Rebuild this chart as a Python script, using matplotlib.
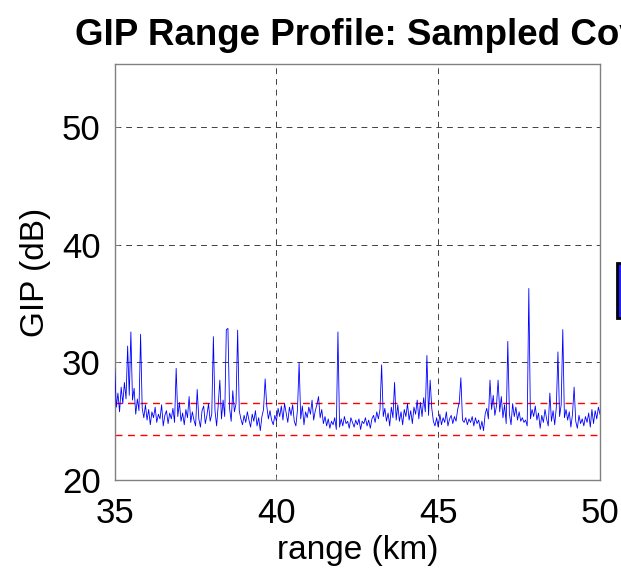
import matplotlib
matplotlib.use("Agg")
import matplotlib.pyplot as plt
from matplotlib.patches import Rectangle
import numpy as np

plt.rcParams['font.family'] = ['Liberation Sans', 'DejaVu Sans']

# ---- data ----
range_start_km = 35.0
range_step_km = 0.05
gip_db = [
    # 35.00 - 35.95
    29.5, 26.2, 27.4, 25.8, 27.9, 26.5, 28.3, 26.9, 31.4, 27.2, 32.6, 26.8, 27.8, 25.6, 26.9, 25.9, 32.4, 26.1, 25.3, 26.4,
    # 36.00 - 36.95
    25.1, 26.0, 24.7, 25.8, 25.3, 26.2, 24.9, 25.6, 25.2, 26.4, 24.6, 25.5, 25.9, 24.8, 25.7, 25.2, 26.1, 24.9, 29.5, 25.4,
    # 37.00 - 37.95
    26.6, 25.0, 25.7, 24.7, 26.0, 25.3, 27.1, 24.9, 25.8, 25.1, 24.6, 27.7, 25.2, 24.5, 25.9, 26.3, 24.8, 25.5, 26.5, 25.0,
    # 38.00 - 38.95
    25.6, 32.2, 25.9, 24.6, 26.4, 28.5, 25.2, 26.8, 25.4, 32.8, 32.9, 26.1, 25.0, 27.6, 25.8, 26.5, 32.75, 25.9, 25.2, 24.7,
    # 39.00 - 39.95
    25.5, 24.9, 25.8, 25.1, 24.5, 25.6, 25.0, 25.9, 24.6, 25.3, 24.2, 25.4, 26.0, 28.6, 26.3, 25.2, 25.9, 25.1, 24.7, 25.5,
    # 40.00 - 40.95
    25.0, 26.1, 25.4, 26.3, 25.1, 26.5, 25.7, 24.9, 26.2, 25.5, 26.4, 25.0, 24.6, 26.0, 30.0, 25.2, 26.3, 24.7, 25.8, 25.3,
    # 41.00 - 41.95
    26.2, 25.6, 26.8, 25.1, 25.9, 26.4, 27.1, 25.3, 26.0, 24.8, 25.4, 24.6, 25.2, 24.4, 25.0, 24.7, 25.3, 24.3, 32.6, 24.5,
    # 42.00 - 42.95
    25.2, 24.6, 25.4, 24.8, 25.0, 24.4, 25.3, 24.9, 24.5, 25.1, 24.7, 25.2, 24.3, 25.0, 24.8, 25.3, 24.6, 25.1, 24.4, 25.2,
    # 43.00 - 43.95
    25.5, 24.9, 25.8, 25.2, 26.0, 29.8, 25.4, 26.1, 25.0, 25.7, 24.6, 26.2, 25.3, 28.3, 25.1, 26.4, 25.0, 25.8, 24.7, 26.0,
    # 44.00 - 44.95
    25.4, 26.5, 25.1, 25.9, 24.8, 26.2, 25.6, 26.8, 25.2, 26.6, 25.4, 27.0, 25.8, 30.6, 25.5, 28.5, 26.1, 25.0, 24.6, 25.3,
    # 45.00 - 45.95
    24.5, 25.6, 24.7, 25.3, 24.9, 25.8, 24.6, 25.2, 25.5, 24.8, 25.4, 25.0, 26.0, 26.6, 28.7, 25.1, 24.9, 25.3, 24.7, 25.2,
    # 46.00 - 46.95
    24.9, 25.4, 24.6, 25.3, 24.8, 25.1, 24.3, 25.0, 24.2, 25.6, 26.1, 25.2, 28.5, 26.0, 27.2, 25.5, 26.3, 28.5, 25.8, 27.1,
    # 47.00 - 47.95
    25.3, 26.4, 24.8, 31.8, 25.6, 24.7, 26.5, 25.4, 26.2, 25.1, 25.8, 25.0, 25.3, 24.9, 25.1, 24.6, 36.3, 25.2, 26.0, 25.4,
    # 48.00 - 48.95
    26.3, 25.1, 25.7, 24.4, 25.5, 24.9, 26.0, 25.2, 24.6, 27.4, 25.0, 25.9, 24.7, 26.2, 30.9, 25.4, 26.4, 32.8, 25.3, 26.0,
    # 49.00 - 50.00
    25.1, 25.8, 24.5, 25.6, 27.9, 25.0, 24.4, 25.5, 24.8, 25.2, 24.6, 25.4, 24.9, 25.7, 24.5, 26.0, 24.8, 25.9, 25.2, 26.2, 25.6,
]
threshold_upper_db = 26.55
threshold_lower_db = 23.8
x_ticks = [35, 40, 45, 50]
y_ticks = [20, 30, 40, 50]
title_text = "GIP Range Profile: Sampled Covariance"
x_label = "range (km)"
y_label = "GIP (dB)"

range_km = range_start_km + range_step_km * np.arange(len(gip_db))

W, H = 621, 574
fig = plt.figure(figsize=(W / 100, H / 100), dpi=100)
fig.patch.set_facecolor('white')

ax_l, ax_r, ax_t, ax_b = 114.7, 600.0, 64.0, 480.0
ax = fig.add_axes([ax_l / W, 1 - ax_b / H, (ax_r - ax_l) / W, (ax_b - ax_t) / H])

ax.plot(range_km, gip_db, color='#0000ff', lw=0.6, zorder=3)
ax.axhline(threshold_upper_db, color='#ff0000', lw=1.0, ls=(0, (5, 4)), zorder=2)
ax.axhline(threshold_lower_db, color='#ff0000', lw=1.0, ls=(0, (5, 4)), zorder=2)

ax.set_xlim(35, 50)
ax.set_ylim(20, 55.4)
ax.set_xticks(x_ticks)
ax.set_yticks(y_ticks)
ax.grid(True, color='#404040', lw=0.7, ls=(0, (6, 5)))
ax.set_axisbelow(True)

for s in ax.spines.values():
    s.set_color('#808080')
    s.set_linewidth(1.0)
ax.tick_params(direction='in', length=3, width=0.6, color='#808080',
               labelsize=25, pad=10)
ax.tick_params(axis='x', pad=12)

ax.set_xlabel(x_label, fontsize=24, labelpad=4)
ax.set_ylabel(y_label, fontsize=24, labelpad=8)

# title (cropped on the right in the reference)
fig.text(75 / W, 1 - 45 / H, title_text, fontsize=26.5, fontweight='bold',
         ha='left', va='baseline')

# cropped legend box fragment at right edge
fig.patches.append(Rectangle((617 / W, 1 - 318 / H), 20 / W, 55 / H,
                             transform=fig.transFigure, facecolor='#2020ff',
                             edgecolor='black', lw=2.0))

fig.savefig('out.png', dpi=100)
